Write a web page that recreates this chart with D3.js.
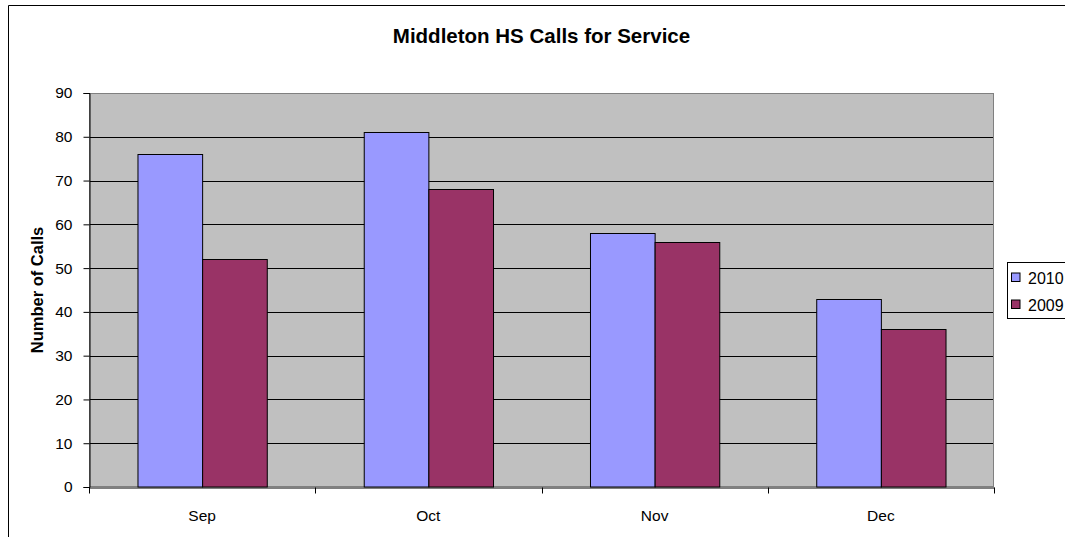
<!DOCTYPE html>
<html><head><meta charset="utf-8">
<script src="https://cdn.jsdelivr.net/npm/d3@7"></script>
<style>html,body{margin:0;background:#fff;overflow:hidden;}svg{display:block;font-family:"Liberation Sans",Arial,sans-serif;}</style>
</head><body>
<svg id="c" width="1065" height="537"></svg>
<script>
const categories = ["Sep", "Oct", "Nov", "Dec"];
const seriesNames = ["2010", "2009"];
const values2010 = [76, 81, 58, 43];
const values2009 = [52, 68, 56, 36];
const yTicks = [0, 10, 20, 30, 40, 50, 60, 70, 80, 90];
const colors = ["#9999FF", "#993366"];

const svg = d3.select("#c");
const L = 89, R = 994, T = 93, B = 487;

// outer chart border (only top and left visible)
svg.append("line").attr("x1", 8.5).attr("x2", 1065).attr("y1", 5.5).attr("y2", 5.5).attr("stroke", "#000");
svg.append("line").attr("x1", 8.5).attr("x2", 8.5).attr("y1", 5.5).attr("y2", 537).attr("stroke", "#000");

const x = d3.scaleBand().domain(categories).range([L, R]).paddingInner(0).paddingOuter(0);
const bw = x.bandwidth() / 3.5;
const x1 = d3.scaleBand().domain(seriesNames).range([0, 2 * bw]);
const y = d3.scaleLinear().domain([0, 90]).range([B, T]);

svg.append("rect").attr("x", L).attr("y", T).attr("width", R - L).attr("height", B - T).attr("fill", "#C0C0C0");

svg.append("g").selectAll("line").data(yTicks.filter(d => d > 0)).join("line")
  .attr("x1", L).attr("x2", R).attr("y1", d => Math.round(y(d)) + 0.5).attr("y2", d => Math.round(y(d)) + 0.5)
  .attr("stroke", "#000").attr("stroke-width", 1);

svg.append("rect").attr("x", L + 0.5).attr("y", T + 0.5).attr("width", R - L - 1).attr("height", B - T - 1)
  .attr("fill", "none").attr("stroke", "#808080").attr("stroke-width", 1);

const series = [values2010, values2009];
const g = svg.append("g");
series.forEach((vals, si) => {
  g.append("g").selectAll("rect").data(categories).join("rect")
    .attr("x", (c) => x(c) + 0.75 * bw + x1(seriesNames[si]) + 0.5)
    .attr("y", (c, i) => Math.round(y(vals[i])) + 0.5)
    .attr("width", x1.bandwidth())
    .attr("height", (c, i) => B - Math.round(y(vals[i])) - 0.5)
    .attr("fill", colors[si]).attr("stroke", "#000").attr("stroke-width", 1);
});

// y axis
const ya = d3.axisLeft(y).tickValues(yTicks).tickSize(6).tickPadding(11);
const yg = svg.append("g").attr("transform", `translate(${L + 0.5},0)`).call(ya);
yg.select(".domain").attr("stroke", "#000");
yg.selectAll(".tick line").attr("stroke", "#000");
yg.selectAll(".tick text").attr("font-size", 15.5).attr("fill", "#000");

// x axis
const xa = d3.axisBottom(x).tickSize(0).tickPadding(22);
const xg = svg.append("g").attr("transform", `translate(0,${B + 0.5})`).call(xa);
xg.select(".domain").attr("stroke", "#000");
xg.selectAll(".tick text").attr("font-size", 15.5).attr("fill", "#000");
const bounds = categories.map(c => x(c)).concat([R]);
xg.selectAll(".bt").data(bounds).join("line").attr("class", "bt")
  .attr("x1", d => Math.round(d) + 0.5).attr("x2", d => Math.round(d) + 0.5)
  .attr("y1", 0).attr("y2", 6).attr("stroke", "#000");

svg.append("text").attr("x", (L + R) / 2).attr("y", 43).attr("text-anchor", "middle")
  .attr("font-size", 20.5).attr("font-weight", "bold").text("Middleton HS Calls for Service");

svg.append("text").attr("transform", `translate(43,${(T + B) / 2}) rotate(-90)`).attr("text-anchor", "middle")
  .attr("font-size", 16.5).attr("font-weight", "bold").text("Number of Calls");

// legend
const lg = svg.append("g");
lg.append("rect").attr("x", 1007.5).attr("y", 262.5).attr("width", 100).attr("height", 56)
  .attr("fill", "#fff").attr("stroke", "#000");
seriesNames.forEach((s, i) => {
  const yy = 277.5 + i * 27;
  lg.append("rect").attr("x", 1011.5).attr("y", yy - 4.5).attr("width", 8.5).attr("height", 8.5)
    .attr("fill", colors[i]).attr("stroke", "#000");
  lg.append("text").attr("x", 1028).attr("y", yy + 6).attr("font-size", 16).text(s);
});
</script>
</body></html>
